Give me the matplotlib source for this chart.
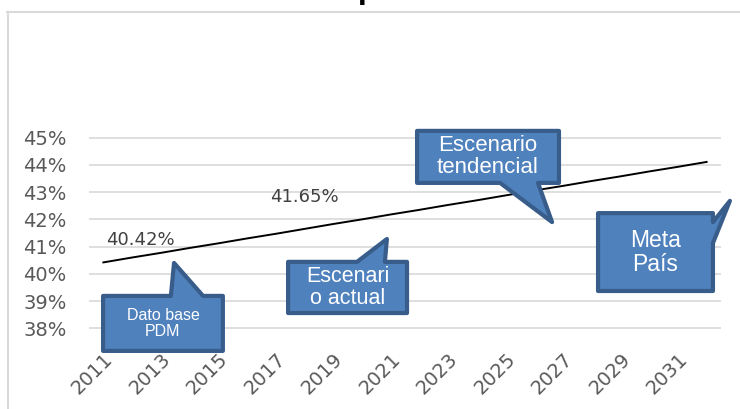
import matplotlib
matplotlib.use("Agg")
import matplotlib.pyplot as plt
from matplotlib.lines import Line2D
from matplotlib.patches import Polygon

# --- data -------------------------------------------------------------------
years = list(range(2011, 2033))
tasa = [40.42, 40.60, 40.77, 40.95, 41.12, 41.30, 41.47, 41.65, 41.83, 42.00,
        42.18, 42.35, 42.53, 42.70, 42.88, 43.06, 43.23, 43.41, 43.58, 43.76,
        43.93, 44.11]
label_years = [2011, 2018]
label_texts = ["40.42%", "41.65%"]
y_ticks = [38, 39, 40, 41, 42, 43, 44, 45]

# callouts: text, box (x0, x1, y0, y1) in data units, wedge (side, a, b, tip)
callouts = [
    ("Dato base\nPDM", (-0.01, 4.16, 37.17, 39.19), ("top", 2.35, 3.47, (2.46, 40.40)), 11.5),
    ("Escenari\no actual", (6.43, 10.57, 38.56, 40.44), ("top", 8.83, 9.80, (9.87, 41.28)), 15.5),
    ("Escenario\ntendencial", (10.92, 15.86, 43.34, 45.25), ("bottom", 13.81, 15.13, (15.62, 41.90)), 16),
    ("Meta\nPaís", (17.22, 21.22, 39.37, 42.23), ("right", 41.13, 41.90, (21.81, 42.68)), 16.5),
]

FACE = "#4F81BD"
EDGE = "#385D8A"
GRID = "#D9D9D9"


def callout_vertices(box, wedge):
    x0, x1, y0, y1 = box
    side, a, b, tip = wedge
    if side == "top":
        return [(x0, y1), (a, y1), tip, (b, y1), (x1, y1), (x1, y0), (x0, y0)]
    if side == "bottom":
        return [(x0, y1), (x1, y1), (x1, y0), (b, y0), tip, (a, y0), (x0, y0)]
    # right side: a, b are y values
    return [(x0, y1), (x1, y1), (x1, b), tip, (x1, a), (x1, y0), (x0, y0)]


W, H = 740, 409
fig = plt.figure(figsize=(W / 100, H / 100), dpi=100)

# axes placed so the 38%..45% grid falls where the original has it
ymin, ymax = 37.9, 45.1
px_per_pct = 27.23
y38 = 328.3
bottom_px = y38 + (38 - ymin) * px_per_pct
top_px = y38 - (ymax - 38) * px_per_pct
ax = fig.add_axes([89 / W, 1 - bottom_px / H, (721 - 89) / W, (bottom_px - top_px) / H])
ax.patch.set_visible(False)

x = list(range(len(years)))
ax.plot(x, tasa, color="black", lw=1.4, zorder=3)

for yr, txt in zip(label_years, label_texts):
    i = years.index(yr)
    if i == 0:
        ax.annotate(txt, (i, tasa[i]), xytext=(2, 16), textcoords="offset points",
                    ha="left", va="center", fontsize=13, color="#404040")
    else:
        ax.annotate(txt, (i, tasa[i]), xytext=(0, 23), textcoords="offset points",
                    ha="center", va="center", fontsize=13, color="#404040")

ax.set_xlim(-0.5, len(years) - 0.5)
ax.set_ylim(ymin, ymax)
ax.set_yticks(y_ticks)
ax.set_yticklabels([f"{v}%" for v in y_ticks])
ax.set_xticks(x[::2])
ax.set_xticklabels([str(y) for y in years[::2]], rotation=45, ha="right",
                   rotation_mode="anchor")
ax.tick_params(axis="both", length=0, labelsize=14, labelcolor="#595959")
ax.tick_params(axis="x", pad=13)
ax.tick_params(axis="y", pad=16)
ax.grid(axis="y", color=GRID, lw=1.2, zorder=0)
for s in ax.spines.values():
    s.set_visible(False)

for text, box, wedge, fs in callouts:
    poly = Polygon(callout_vertices(box, wedge), closed=True, facecolor=FACE,
                   edgecolor=EDGE, lw=3, joinstyle="round", clip_on=False, zorder=4)
    ax.add_patch(poly)
    cx = (box[0] + box[1]) / 2
    cy = (box[2] + box[3]) / 2
    ax.text(cx, cy, text, ha="center", va="center", color="white", fontsize=fs,
            family=["Liberation Sans Narrow", "Liberation Sans", "DejaVu Sans"],
            linespacing=1.05, zorder=5, clip_on=False)

# chart frame (light grey), only top and left visible in the crop
fig.add_artist(Line2D([7 / W, 1], [1 - 12 / H, 1 - 12 / H], color=GRID, lw=1.5))
fig.add_artist(Line2D([7.5 / W, 7.5 / W], [0, 1 - 12 / H], color=GRID, lw=1.5))

# cut-off title: only the descender shows above the frame
fig.text(358 / W, 1.0, "p", fontsize=18, fontweight="bold", va="baseline", ha="left")

fig.savefig("out.png", dpi=100)
